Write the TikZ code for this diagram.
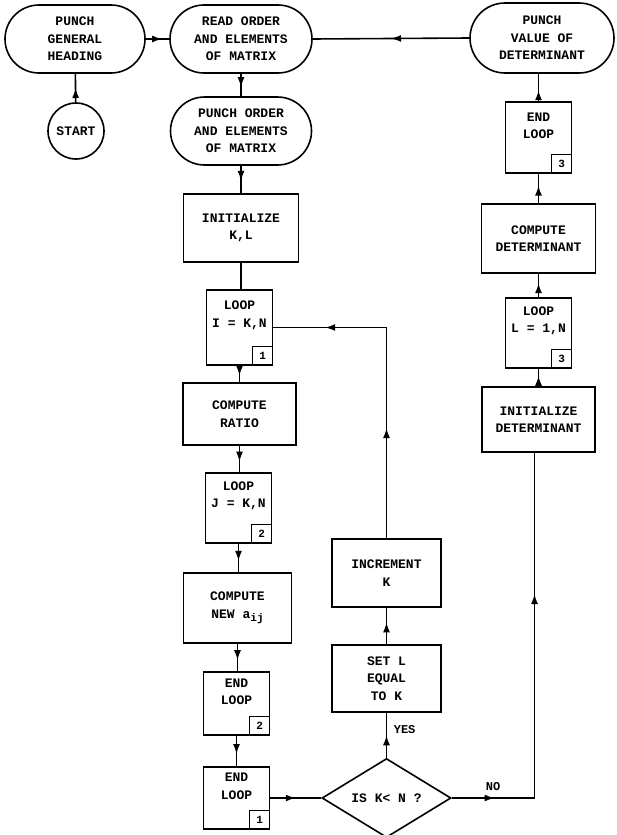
\documentclass[tikz,border=0pt]{standalone}
\usepackage{fontspec}
\newfontfamily\tw{Liberation Mono}
\usetikzlibrary{shapes.misc,shapes.geometric,arrows.meta,decorations.markings}
\begin{document}
\begin{tikzpicture}[x=1pt,y=-1pt,
  line width=1.6pt,
  every node/.style={font=\tw\bfseries\fontsize{13}{17.5}\selectfont, align=center, inner sep=0pt},
  stadium/.style={draw, rounded rectangle, minimum width=#1, minimum height=68pt},
  stepbox/.style={draw, rectangle, minimum width=#1},
  loopbox/.style={draw, rectangle, minimum width=66pt},
  numbox/.style={draw, rectangle, line width=1.2pt, minimum width=20pt, minimum height=19pt,
    font=\tw\bfseries\fontsize{11}{12}\selectfont, anchor=south east},
  tip/.style={-, decoration={markings, mark=at position #1 with {\arrow{Latex[length=10pt,width=7pt]}}},
    postaction=decorate},
  tip/.default=0.6,
  tiptwo/.style 2 args={-, decoration={markings,
    mark=at position #1 with {\arrow{Latex[length=10pt,width=7pt]}},
    mark=at position #2 with {\arrow{Latex[length=10pt,width=7pt]}}},
    postaction=decorate},
  lbl/.style={font=\tw\bfseries\fontsize{12}{14}\selectfont}
]
\useasboundingbox (0,0) rectangle (617,835);

% top row
\node[stadium=140pt] (phead) at (75,39) {PUNCH\\GENERAL\\HEADING};
\node[draw, circle, minimum size=56pt] (start) at (76,131) {START};
\node[stadium=142pt] (read) at (241,39) {READ ORDER\\AND ELEMENTS\\OF MATRIX};
\node[stadium=144pt, minimum height=70pt] (pval) at (542,38) {PUNCH\\VALUE OF\\DETERMINANT};
\node[stadium=141pt] (pord) at (241,131) {PUNCH ORDER\\AND ELEMENTS\\OF MATRIX};

% elimination column
\node[stepbox=115pt, minimum height=68pt] (initkl) at (241,228) {INITIALIZE\\K,L};
\node[loopbox, minimum height=75pt] (loopi) at (239.5,327.5) {LOOP\\I = K,N\\[9pt]};
\node[numbox] (ni) at (loopi.south east) {1};
\node[stepbox=113pt, minimum height=62pt] (ratio) at (239.5,414) {COMPUTE\\RATIO};
\node[loopbox, minimum height=70pt] (loopj) at (238.5,508) {LOOP\\J = K,N\\[9pt]};
\node[numbox] (nj) at (loopj.south east) {2};
\node[stepbox=108pt, minimum height=70pt] (newa) at (237.5,608) {COMPUTE\\NEW a\raisebox{-0.45ex}{\fontsize{11}{12}\selectfont ij}};
\node[loopbox, minimum height=63pt] (endtwo) at (236.5,703.5) {END\\LOOP\\[6pt]};
\node[numbox] (ntwo) at (endtwo.south east) {2};
\node[loopbox, minimum height=62pt] (endone) at (236.5,798) {END\\LOOP\\[6pt]};
\node[numbox] (none) at (endone.south east) {1};

% decision and increment
\node[draw, diamond, minimum width=129pt, minimum height=66pt] (dia) at (386.5,798) {IS K< N ?};
\node[stepbox=109pt, minimum height=67pt] (setl) at (386.5,678.5) {SET L\\EQUAL\\TO K};
\node[stepbox=109pt, minimum height=68pt] (inck) at (386.5,573) {INCREMENT\\K};

% determinant column
\node[loopbox, minimum height=71pt] (endthree) at (538.5,137.5) {END\\LOOP\\[6pt]};
\node[numbox] (nthree) at (endthree.south east) {3};
\node[stepbox=114pt, minimum height=69pt] (compdet) at (538.5,238.5) {COMPUTE\\DETERMINANT};
\node[loopbox, minimum height=70pt] (loopl) at (538.5,333) {LOOP\\L = 1,N\\[9pt]};
\node[numbox] (nl) at (loopl.south east) {3};
\node[stepbox=113pt, minimum height=65pt] (initdet) at (538.5,419.5) {INITIALIZE\\DETERMINANT};
\coordinate (noin) at ([xshift=-4pt]initdet.south);

% connectors
\draw[tip=0.5] (start) -- (phead);
\draw[tip=0.7] (phead.east) -- (read.west);
\draw[tip=0.6] (read) -- (pord);
\draw[tip=0.55] (pord.south) -- (initkl.north);
\draw (initkl.south) -- (initkl.south |- loopi.north);
\draw[tip] (loopi.south) -- (loopi.south |- ratio.north);
\draw[tip] (ratio.south) -- (ratio.south |- loopj.north);
\draw[tip] (loopj.south) -- (loopj.south |- newa.north);
\draw[tip] (newa.south) -- (newa.south |- endtwo.north);
\draw[tip] (endtwo.south) -- (endtwo.south |- endone.north);
\draw[tip=0.5] (endone.east) -- (dia.west);
\draw[tip=0.5] (dia.north) -- (setl.south);
\node[lbl, anchor=west] (yes) at (393,730) {YES};
\draw[tip=0.6] (setl.north) -- (inck.south);
\draw[tiptwo={0.34}{0.84}] (inck.north) |- (loopi.east);
\draw[tiptwo={0.1}{0.67}] (dia.east) -| (noin);
\node[lbl] (no) at (493,787) {NO};
\draw[tip=0.6] (initdet.north) -- (loopl.south);
\draw[tip=0.6] (loopl.north) -- (compdet.south);
\draw[tip=0.6] (compdet.north) -- (endthree.south);
\draw[tip=0.4] (endthree.north) -- (endthree.north |- pval.south);
\draw[tip=0.5] (pval.west) -- (read.east);
\end{tikzpicture}
\end{document}
